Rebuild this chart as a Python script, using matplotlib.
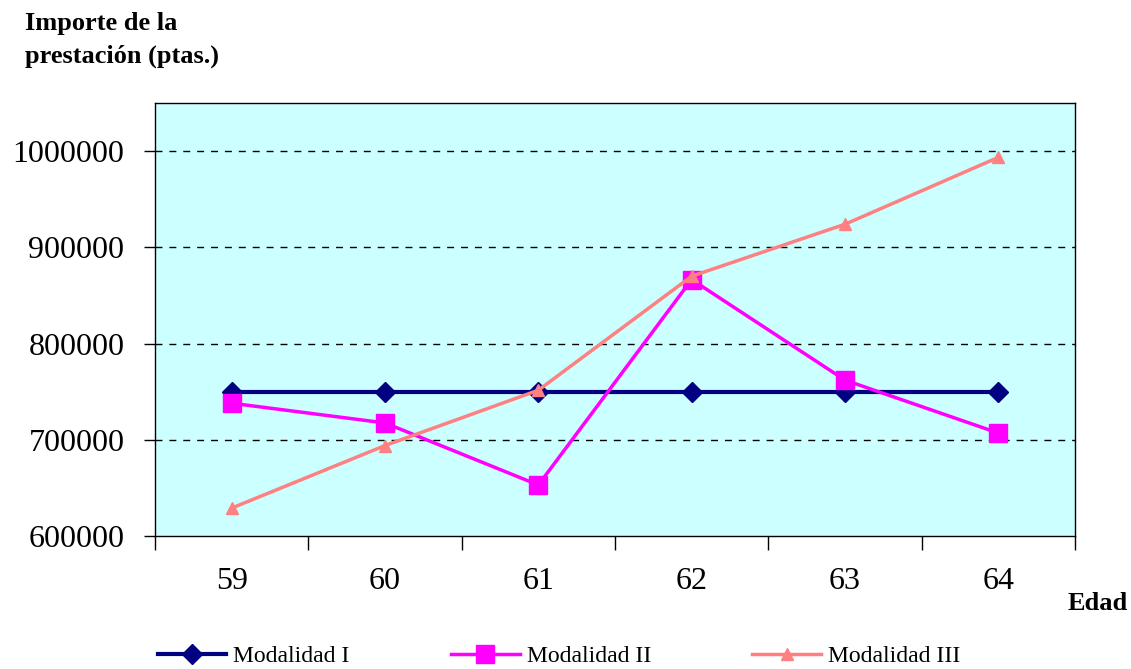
import matplotlib
matplotlib.use("Agg")
import matplotlib.pyplot as plt
import numpy as np

edades = ["59", "60", "61", "62", "63", "64"]
modalidad_1 = [750000, 750000, 750000, 750000, 750000, 750000]
modalidad_2 = [738000, 717500, 653000, 866500, 762000, 707000]
modalidad_3 = [629000, 694000, 751500, 870000, 924000, 993500]
yticks = [600000, 700000, 800000, 900000, 1000000]

plt.rcParams['font.family'] = ['Liberation Serif', 'DejaVu Serif']

fig = plt.figure(figsize=(11.31, 6.69), dpi=100)
ax = fig.add_axes([155/1131, 1 - 536/669, 920/1131, 433/669])
ax.set_facecolor('#CCFFFF')

x = np.arange(len(edades))
ax.plot(x, modalidad_1, color='#000080', lw=3, marker='D', ms=10, label='Modalidad I', zorder=3)
ax.plot(x, modalidad_2, color='#FF00FF', lw=2.5, marker='s', ms=13, label='Modalidad II', zorder=4)
ax.plot(x, modalidad_3, color='#FF8080', lw=2.5, marker='^', ms=8, label='Modalidad III', zorder=5)

ax.set_xlim(-0.5, len(edades) - 0.5)
ax.set_ylim(600000, 1050000)
ax.set_yticks(yticks)
ax.set_yticklabels([str(v) for v in yticks], fontsize=23)
ax.set_xticks(x)
ax.set_xticklabels(edades, fontsize=23)
ax.tick_params(axis='x', length=0, pad=22)
ax.set_xticks(np.arange(-0.5, len(edades)), minor=True)
ax.tick_params(axis='x', which='minor', length=10, width=1, direction='out', color='black')
ax.tick_params(axis='y', length=8, width=1, direction='out', pad=14)
for v in yticks[1:]:
    ax.axhline(v, color='black', lw=1, ls=(0, (5, 5)), zorder=1)
for s in ax.spines.values():
    s.set_color('black')
    s.set_linewidth(1)

fig.text(25/1131, 1 - 40/669, "Importe de la\nprestación (ptas.)", fontsize=19, fontweight='bold',
         va='center', ha='left', linespacing=1.55)
fig.text(1128/1131, 1 - 603/669, "Edad", fontsize=19, fontweight='bold', ha='right', va='center')

leg = fig.legend(loc='center', bbox_to_anchor=(559/1131, 1 - 656/669), ncol=3, frameon=False,
                 fontsize=17, handlelength=2.9, columnspacing=4.3, handletextpad=0.3,
                 borderpad=0, borderaxespad=0)

fig.savefig('out.png', dpi=100)
